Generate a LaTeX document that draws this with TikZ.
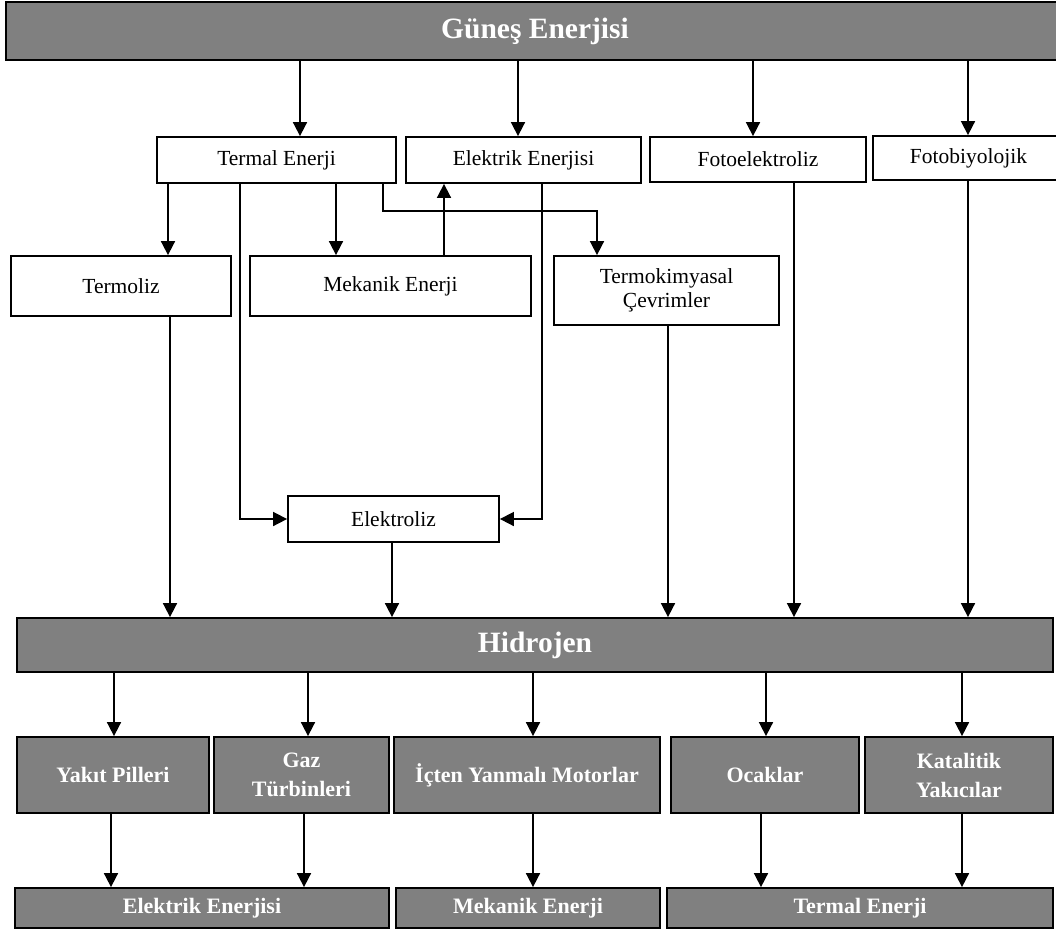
\documentclass[tikz,border=0pt]{standalone}
\usepackage{fontspec}
\setmainfont{Liberation Serif}
\usetikzlibrary{arrows.meta}
\definecolor{boxgray}{HTML}{808080}
% place a box by its corner coordinates: name, style, x1, y1, x2, y2, text
\newcommand\cornerbox[7]{%
  \node[#2,minimum width={#5-#3},minimum height={#6-#4}] (#1)
    at ({(#3+#5)/2},{(#4+#6)/2}) {#7};}
\begin{document}
\begin{tikzpicture}[x=1pt,y=-1pt,
  box/.style={draw=black,line width=1.8pt,fill=white,inner sep=0pt,align=center,
    font=\fontsize{21.5}{24.5}\selectfont},
  gbox/.style={box,fill=boxgray,text=white,font=\bfseries\fontsize{22}{29}\selectfont},
  bigbox/.style={gbox,font=\bfseries\fontsize{29.5}{34}\selectfont},
  arr/.style={line width=1.7pt,-{Triangle[length=14pt,width=14pt]}},
  ln/.style={line width=1.7pt}]
\useasboundingbox (0,0) rectangle (1056,930);

% source
\cornerbox{gun}{bigbox}{6}{2}{1064}{60}{Güneş Enerjisi}

% conversion paths
\cornerbox{termal}{box}{157}{137}{396}{183}{Termal Enerji}
\cornerbox{elek}{box}{406}{137}{641}{183}{Elektrik Enerjisi}
\cornerbox{fotoe}{box}{650}{137}{866}{182}{Fotoelektroliz}
\cornerbox{fotob}{box}{873}{136}{1064}{180}{Fotobiyolojik}

\cornerbox{termoliz}{box}{11}{256}{231}{316}{Termoliz}
\cornerbox{mekanik}{box}{250}{256}{531}{316}{Mekanik Enerji}
\cornerbox{termok}{box}{554}{256}{779}{325}{Termokimyasal\\Çevrimler}

\cornerbox{elektroliz}{box}{288}{496}{499}{542}{Elektroliz}

% hydrogen
\cornerbox{hid}{bigbox}{17}{618}{1053}{672}{Hidrojen}

% end uses
\cornerbox{yakit}{gbox}{17}{737}{209}{813}{Yakıt Pilleri}
\cornerbox{gaz}{gbox}{214}{737}{389}{813}{Gaz\\Türbinleri}
\cornerbox{icten}{gbox}{394}{737}{660}{813}{İçten Yanmalı Motorlar}
\cornerbox{ocak}{gbox}{671}{737}{859}{813}{Ocaklar}
\cornerbox{kata}{gbox}{865}{737}{1053}{813}{Katalitik\\Yakıcılar}

% final energy forms
\cornerbox{elekE}{gbox}{15}{888}{389}{928}{Elektrik Enerjisi}
\cornerbox{mekE}{gbox}{396}{888}{660}{928}{Mekanik Enerji}
\cornerbox{termE}{gbox}{667}{888}{1053}{928}{Termal Enerji}

% from the sun
\draw[arr] (300,0 |- gun.south) -- (300,0 |- termal.north);
\draw[arr] (518,0 |- gun.south) -- (518,0 |- elek.north);
\draw[arr] (753,0 |- gun.south) -- (753,0 |- fotoe.north);
\draw[arr] (968,0 |- gun.south) -- (968,0 |- fotob.north);

% from thermal energy
\draw[arr] (168,0 |- termal.south) -- (168,0 |- termoliz.north);
\draw[arr] (336,0 |- termal.south) -- (336,0 |- mekanik.north);
\draw[arr] (240,0 |- termal.south) |- (elektroliz.west);
\draw[arr] (383,0 |- termal.south) |- (597,211) -- (597,0 |- termok.north);

% mechanical to electrical, electrical to electrolysis
\draw[arr] (444,0 |- mekanik.north) -- (444,0 |- elek.south);
\draw[arr] (542,0 |- elek.south) |- (elektroliz.east);

% into hydrogen
\draw[arr] (170,0 |- termoliz.south) -- (170,0 |- hid.north);
\draw[arr] (392,0 |- elektroliz.south) -- (392,0 |- hid.north);
\draw[arr] (668,0 |- termok.south) -- (668,0 |- hid.north);
\draw[arr] (794,0 |- fotoe.south) -- (794,0 |- hid.north);
\draw[arr] (968,0 |- fotob.south) -- (968,0 |- hid.north);

% hydrogen to end uses
\draw[arr] (114,0 |- hid.south) -- (114,0 |- yakit.north);
\draw[arr] (308,0 |- hid.south) -- (308,0 |- gaz.north);
\draw[arr] (533,0 |- hid.south) -- (533,0 |- icten.north);
\draw[arr] (766,0 |- hid.south) -- (766,0 |- ocak.north);
\draw[arr] (962,0 |- hid.south) -- (962,0 |- kata.north);

% end uses to energy forms
\draw[arr] (111,0 |- yakit.south) -- (111,0 |- elekE.north);
\draw[arr] (304,0 |- gaz.south) -- (304,0 |- elekE.north);
\draw[arr] (533,0 |- icten.south) -- (533,0 |- mekE.north);
\draw[arr] (761,0 |- ocak.south) -- (761,0 |- termE.north);
\draw[arr] (962,0 |- kata.south) -- (962,0 |- termE.north);
\end{tikzpicture}
\end{document}
